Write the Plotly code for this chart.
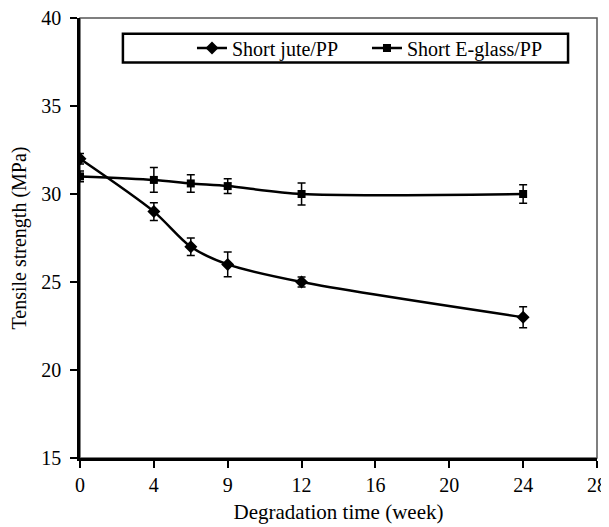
import plotly.graph_objects as go

# x positions on the drawn axis (axis units), tick labels as printed
x_jute = [0, 4, 6, 8, 12, 24]
y_jute = [32.0, 29.0, 27.0, 26.0, 25.0, 23.0]
e_jute = [0.3, 0.5, 0.5, 0.7, 0.28, 0.6]

x_glass = [0, 4, 6, 8, 12, 24]
y_glass = [31.0, 30.8, 30.6, 30.45, 30.0, 30.0]
e_glass = [0.3, 0.7, 0.5, 0.42, 0.62, 0.52]

tick_vals = [0, 4, 8, 12, 16, 20, 24, 28]
tick_text = ["0", "4", "9", "12", "16", "20", "24", "28"]

FONT = "Liberation Serif, Times New Roman, serif"

fig = go.Figure()
fig.add_trace(go.Scatter(
    x=x_jute, y=y_jute, name="Short jute/PP", mode="lines+markers",
    line=dict(color="black", width=2.5, shape="spline", smoothing=0.8),
    marker=dict(symbol="diamond", size=10, color="black"),
    error_y=dict(type="data", array=e_jute, visible=True, color="black",
                 thickness=1.5, width=4),
))
fig.add_trace(go.Scatter(
    x=x_glass, y=y_glass, name="Short E-glass/PP", mode="lines+markers",
    line=dict(color="black", width=2.5, shape="spline", smoothing=0.8),
    marker=dict(symbol="square", size=8, color="black"),
    error_y=dict(type="data", array=e_glass, visible=True, color="black",
                 thickness=1.5, width=4),
))

# plot-area frame (top/right grey)
fig.add_shape(type="rect", xref="paper", yref="paper", x0=0, x1=1, y0=0, y1=1,
              line=dict(color="#555555", width=1.5), layer="below")
# legend box
fig.add_shape(type="rect", xref="paper", yref="paper", x0=0.083, x1=0.944,
              y0=0.899, y1=0.964, line=dict(color="black", width=2.5),
              fillcolor="white", layer="below")

fig.update_layout(
    width=601, height=519,
    margin=dict(l=72, r=12, t=10, b=69),
    paper_bgcolor="white", plot_bgcolor="white",
    font=dict(family=FONT, size=20, color="black"),
    showlegend=True,
    legend=dict(orientation="h", x=0.2166, y=0.932, xanchor="left", yanchor="middle",
                borderwidth=0, bgcolor="rgba(0,0,0,0)",
                font=dict(family=FONT, size=20), entrywidth=130, itemwidth=30),
    xaxis=dict(range=[0, 28], tickvals=tick_vals, ticktext=tick_text, automargin=False,
               showgrid=False, zeroline=False, showline=True, linecolor="black",
               linewidth=2.5, ticks="outside", ticklen=7, tickwidth=2, tickcolor="black",
               ticklabeloverflow="allow",
               title=dict(text="Degradation time (week)", font=dict(size=21), standoff=10)),
    yaxis=dict(range=[15, 40], dtick=5, showgrid=False, zeroline=False, automargin=False,
               showline=True, linecolor="black", linewidth=2.5, ticks="outside",
               ticklen=7, tickwidth=2, tickcolor="black", ticklabelstandoff=5,
               ticklabeloverflow="allow",
               title=dict(text="Tensile strength (MPa)", font=dict(size=20), standoff=12)),
)

fig.write_html("out.html")
